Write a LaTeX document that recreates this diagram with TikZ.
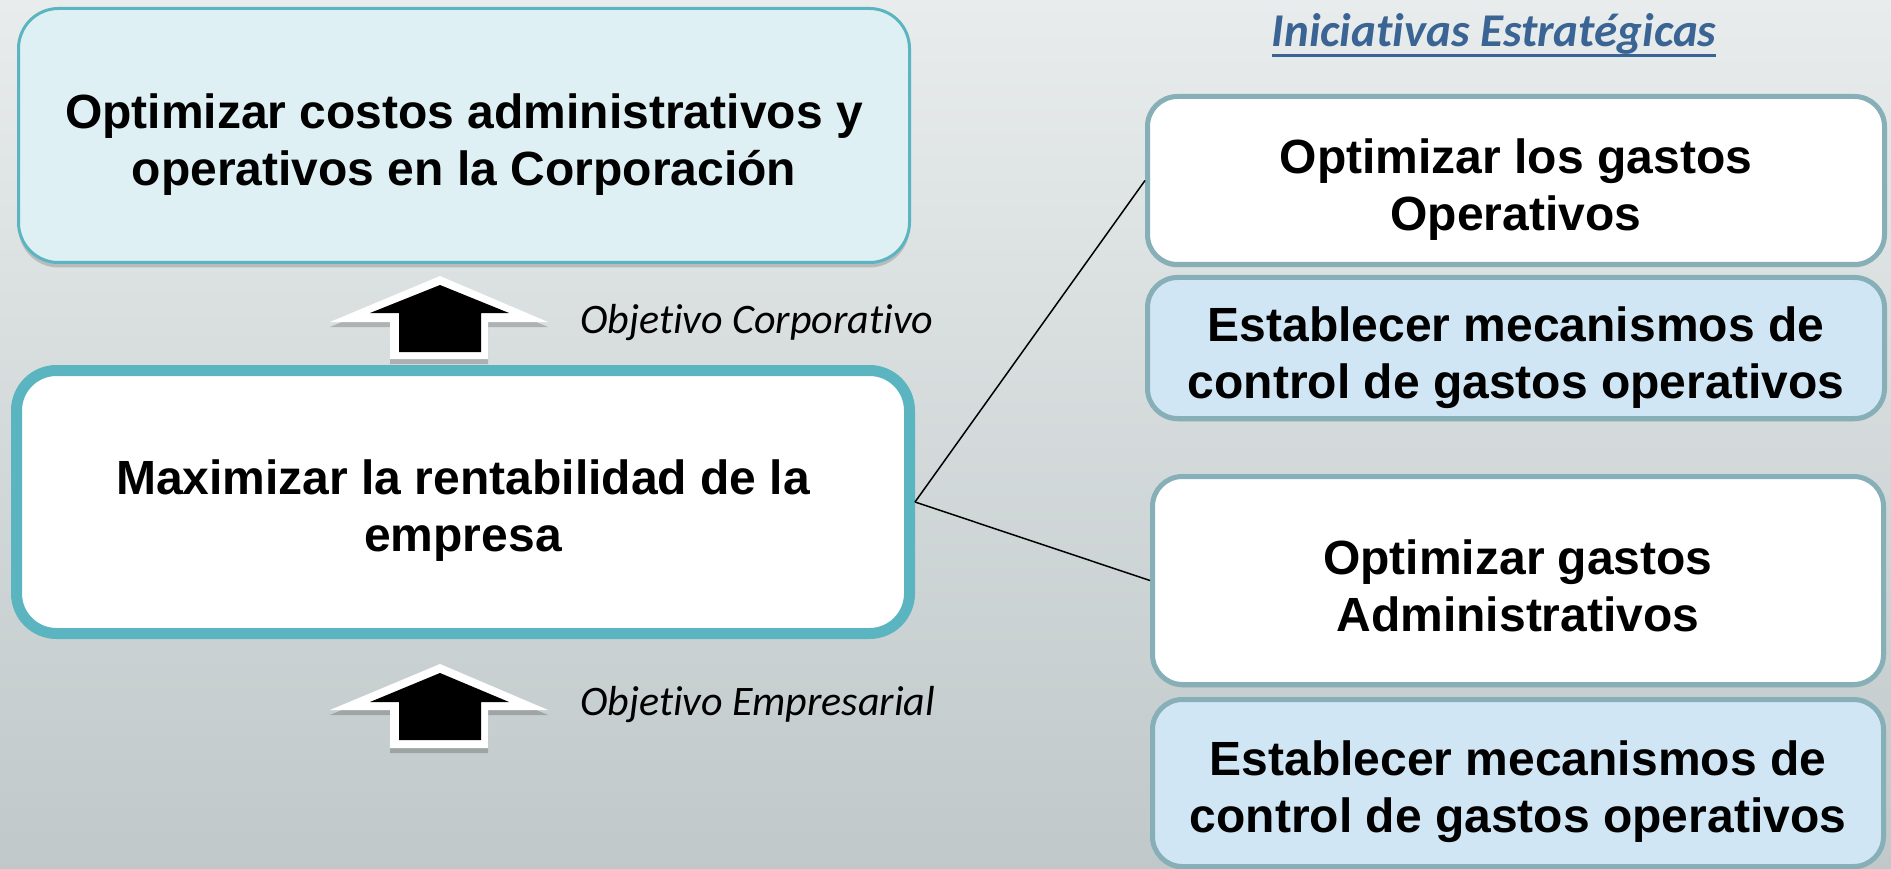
\documentclass[tikz,border=0pt]{standalone}
\usepackage{fontspec}
\setmainfont{Liberation Sans}
\newfontfamily\calib[Ligatures=CommonOff]{Carlito}
\usetikzlibrary{shadows}
\definecolor{bgtop}{HTML}{E8ECEC}
\definecolor{bgbot}{HTML}{C0C8C9}
\definecolor{tealB}{HTML}{5BB5C0}
\definecolor{topfill}{HTML}{DEF0F3}
\definecolor{grayB}{HTML}{86AFB8}
\definecolor{bluefill}{HTML}{D1E6F4}
\definecolor{hdrblue}{HTML}{3A6494}
\tikzset{
  boxtxt/.style={align=center, inner sep=0pt, font=\fontsize{48}{57}\selectfont\bfseries},
  topbox/.style={draw=tealB, line width=3pt, fill=topfill, rounded corners=40pt,
    drop shadow={shadow xshift=0pt, shadow yshift=-5pt, opacity=0.3, fill=black!60}},
  midbox/.style={draw=tealB, line width=11pt, fill=white, rounded corners=40pt},
  rbox/.style={draw=grayB, line width=5pt, rounded corners=30pt,
    drop shadow={shadow xshift=0pt, shadow yshift=-3pt, opacity=0.22, fill=black!60}},
  whitebox/.style={rbox, fill=white},
  bluebox/.style={rbox, fill=bluefill},
  objlbl/.style={anchor=base west, inner sep=0pt, font=\calib\itshape\fontsize{42}{48}\selectfont},
  conn/.style={draw=black, line width=1.5pt},
  arrowshadow/.style={fill=black, opacity=0.2},
}
\begin{document}
\begin{tikzpicture}[x=1pt, y=-1pt]
\shade[top color=bgtop, bottom color=bgbot] (0,0) rectangle (1891,869);
\useasboundingbox (0,0) rectangle (1891,869);

% top corporate objective
\node[topbox, minimum width=891pt, minimum height=254pt] (corp) at (464,135.5) {};
\node[boxtxt] (corpt) at ([yshift=-9pt]corp.center)
  {Optimizar costos administrativos y\\operativos en la Corporación};

% middle enterprise objective
\node[midbox, minimum width=893pt, minimum height=263pt] (emp) at (463,502) {};
\node[boxtxt] (empt) at ([yshift=-9pt]emp.center)
  {Maximizar la rentabilidad de la\\empresa};

% header
\node[anchor=base, inner sep=0pt, text=hdrblue, font=\calib\bfseries\itshape\fontsize{47}{54}\selectfont] (hdr) at (1494,47) {Iniciativas Estratégicas};
\draw[hdrblue, line width=3pt] ([yshift=-9pt]hdr.base west) -- ([yshift=-9pt]hdr.base east);

% right initiatives
\node[whitebox, minimum width=737pt, minimum height=168pt] (ia) at (1516,180.5) {};
\node[boxtxt] (iat) at ([yshift=-9pt]ia.center) {Optimizar los gastos\\Operativos};
\node[bluebox, minimum width=737pt, minimum height=141pt] (ib) at (1516,348) {};
\node[boxtxt] (ibt) at ([yshift=-10pt]ib.center) {Establecer mecanismos de\\control de gastos operativos};
\node[whitebox, minimum width=731pt, minimum height=208pt] (ic) at (1518,580.5) {};
\node[boxtxt] (ict) at ([yshift=-5pt]ic.center) {Optimizar gastos\\Administrativos};
\node[bluebox, minimum width=731pt, minimum height=167pt] (id) at (1518,783) {};
\node[boxtxt] (idt) at ([yshift=-9pt]id.center) {Establecer mecanismos de\\control de gastos operativos};

% connectors
\draw[conn] (emp.east) -- (ia.west);
\draw[conn] (emp.east) -- (ic.west);

% arrow 1 (up, between boxes)
\fill[arrowshadow] (440,281) -- (548,327) -- (488,327) -- (488,364) -- (390,364) -- (390,327) -- (330,327) -- cycle;
\fill[white] (440,276) -- (548,322) -- (488,322) -- (488,359) -- (390,359) -- (390,322) -- (330,322) -- cycle;
\fill[black] (440,285) -- (509,313) -- (481,313) -- (481,352) -- (399,352) -- (399,313) -- (370,313) -- cycle;
\node[objlbl] (lcorp) at (580,333) {Objetivo Corporativo};

% arrow 2 (up, below middle box)
\fill[arrowshadow] (440,669) -- (548,715) -- (488,715) -- (488,753) -- (390,753) -- (390,715) -- (330,715) -- cycle;
\fill[white] (440,664) -- (548,710) -- (488,710) -- (488,748) -- (390,748) -- (390,710) -- (330,710) -- cycle;
\fill[black] (440,673) -- (509,702) -- (481,702) -- (481,740) -- (399,740) -- (399,702) -- (370,702) -- cycle;
\node[objlbl] (lemp) at (580,715) {Objetivo Empresarial};
\end{tikzpicture}
\end{document}
